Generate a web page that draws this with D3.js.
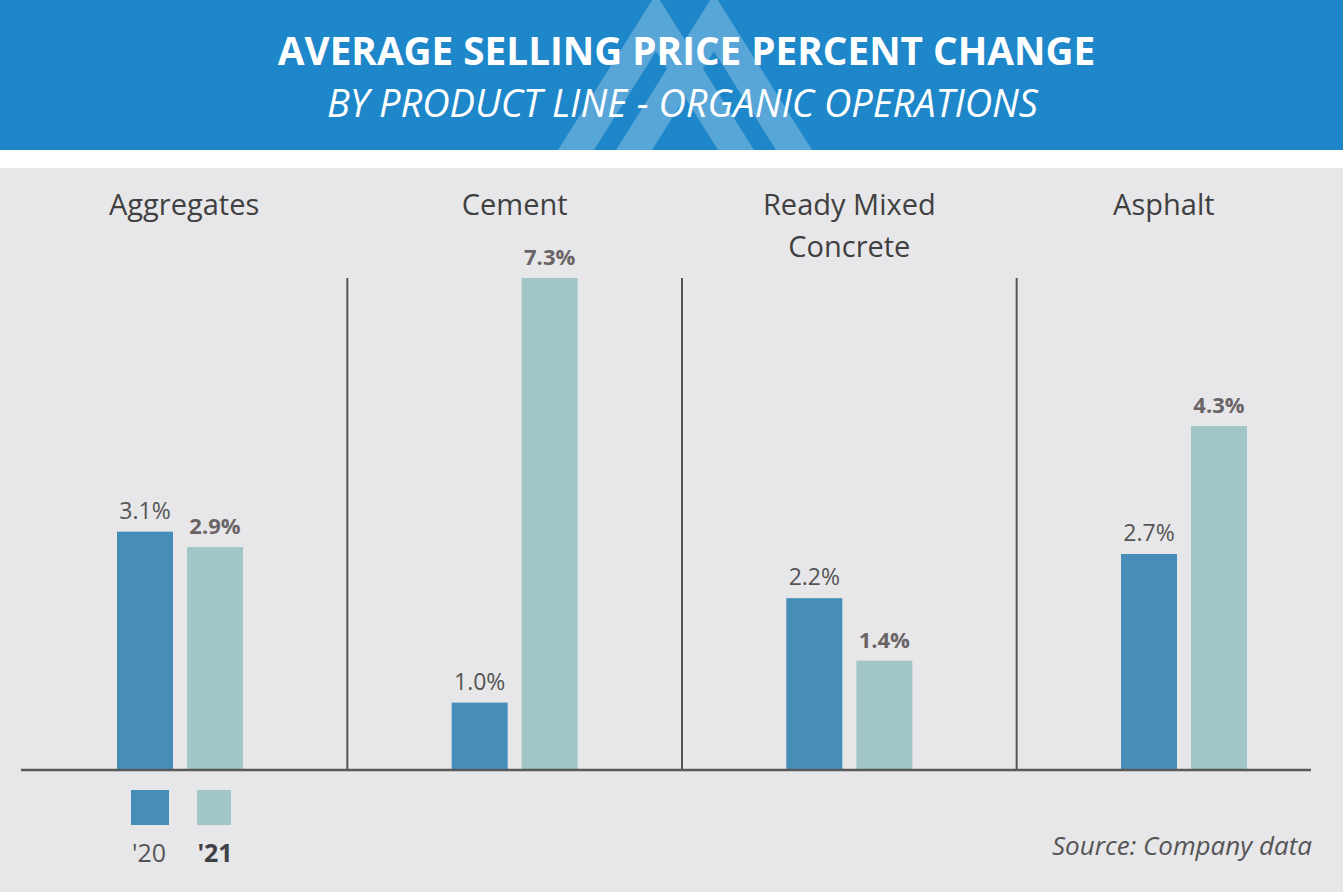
<!DOCTYPE html>
<html>
<head>
<meta charset="utf-8">
<script src="https://cdn.jsdelivr.net/npm/d3@7"></script>
<style>
  html, body { margin: 0; padding: 0; background: #e7e7e9; }
  svg { display: block; font-family: "Open Sans", "Noto Sans", sans-serif; }
</style>
</head>
<body>
<svg id="chart" width="1343" height="892"></svg>
<script>
// ----- Datos -----
const categories = ["Aggregates", "Cement", "Ready Mixed Concrete", "Asphalt"];
const categoryLines = [["Aggregates"], ["Cement"], ["Ready Mixed", "Concrete"], ["Asphalt"]];
const years = ["'20", "'21"];
const values20 = [3.1, 1.0, 2.2, 2.7];
const values21 = [2.9, 7.3, 1.4, 4.3];
// cada panel es un gráfico aparte, con su propio máximo de eje
const panelMax = [6.4, 7.3, 6.3, 6.15];

const title = "AVERAGE SELLING PRICE PERCENT CHANGE";
const subtitle = "BY PRODUCT LINE - ORGANIC OPERATIONS";
const source = "Source: Company data";

const colors = { "'20": "#468eb8", "'21": "#a2c6c7" };

const svg = d3.select("#chart");
const W = 1343, H = 892;

// ----- Cabecera -----
svg.append("rect").attr("x", 0).attr("y", 0).attr("width", W).attr("height", 150).attr("fill", "#1e87c9");
svg.append("rect").attr("x", 0).attr("y", 150).attr("width", W).attr("height", 18).attr("fill", "#ffffff");

// logo de fondo (dos chevrones)
function chevron(ax, top, w, t, bottom) {
  const h = bottom - top;
  const innerY = top + t * h / w;
  return `M${ax - w},${bottom}L${ax},${top}L${ax + w},${bottom}L${ax + w - t},${bottom}L${ax},${innerY}L${ax - w + t},${bottom}Z`;
}
svg.append("path")
  .attr("d", chevron(656, -6, 98, 36, 150) + chevron(714, -6, 98, 36, 150))
  .attr("fill", "#ffffff").attr("fill-opacity", 0.26);

svg.append("text")
  .attr("x", W / 2 + 15).attr("y", 65)
  .attr("text-anchor", "middle")
  .attr("fill", "#ffffff").attr("font-weight", "bold").attr("font-size", 38.7)
  .text(title);
svg.append("text")
  .attr("x", W / 2 + 11).attr("y", 117)
  .attr("text-anchor", "middle")
  .attr("fill", "#ffffff").attr("font-style", "italic").attr("font-size", 38)
  .text(subtitle);

// ----- Escalas -----
const baseY = 770, topY = 278;
const x = d3.scalePoint().domain(categories).range([180, 1184]);
const xs = d3.scaleBand().domain(years).range([-63, 63]).paddingInner(0.2);
const yScales = panelMax.map(m => d3.scaleLinear().domain([0, m]).range([baseY, topY]));

const rows = categories.map((c, i) => ({
  cat: c, i,
  bars: [
    { year: "'20", v: values20[i] },
    { year: "'21", v: values21[i] }
  ]
}));

// separadores entre paneles
const dividers = categories.slice(1).map((c, i) => (x(categories[i]) + x(c)) / 2);
const edges = [21, ...dividers, 1311];
svg.selectAll(".divider").data(dividers).join("line")
  .attr("class", "divider")
  .attr("x1", d => d).attr("x2", d => d)
  .attr("y1", topY).attr("y2", baseY)
  .attr("stroke", "#555555").attr("stroke-width", 2);

// títulos de categoría, centrados en su panel
const catText = svg.selectAll(".cat").data(rows).join("text")
  .attr("class", "cat")
  .attr("text-anchor", "middle")
  .attr("fill", "#404040").attr("font-size", 29);
catText.selectAll("tspan").data(d => categoryLines[d.i].map(l => ({ l, cx: (edges[d.i] + edges[d.i + 1]) / 2 })))
  .join("tspan")
  .attr("x", d => d.cx)
  .attr("y", (d, j) => 215 + j * 42)
  .text(d => d.l);

// barras
const groups = svg.selectAll(".grp").data(rows).join("g")
  .attr("class", "grp")
  .attr("transform", d => `translate(${x(d.cat)},0)`);

groups.selectAll("rect").data(d => d.bars.map(b => ({ ...b, y: yScales[d.i] })))
  .join("rect")
  .attr("x", d => xs(d.year))
  .attr("width", xs.bandwidth())
  .attr("y", d => d.y(d.v))
  .attr("height", d => baseY - d.y(d.v))
  .attr("fill", d => colors[d.year]);

groups.selectAll("text").data(d => d.bars.map(b => ({ ...b, y: yScales[d.i] })))
  .join("text")
  .attr("x", d => xs(d.year) + xs.bandwidth() / 2)
  .attr("y", d => d.y(d.v) - 13)
  .attr("text-anchor", "middle")
  .attr("font-size", d => d.year === "'21" ? 22 : 23)
  .attr("font-weight", d => d.year === "'21" ? "bold" : "normal")
  .attr("fill", d => d.year === "'21" ? "#6b6467" : "#555555")
  .text(d => d.v.toFixed(1) + "%");

// línea base
svg.append("line")
  .attr("x1", 21).attr("x2", 1311)
  .attr("y1", baseY).attr("y2", baseY)
  .attr("stroke", "#595959").attr("stroke-width", 2.5);

// ----- Leyenda -----
const legend = svg.append("g").attr("transform", "translate(131,790)");
const lx = d3.scaleOrdinal().domain(years).range([0, 66]);
legend.selectAll("rect").data(years).join("rect")
  .attr("x", d => lx(d)).attr("y", 0)
  .attr("width", d => d === "'20" ? 38 : 34).attr("height", 35)
  .attr("fill", d => colors[d]);
legend.selectAll("text").data(years).join("text")
  .attr("x", d => lx(d) + 18).attr("y", 72)
  .attr("text-anchor", "middle")
  .attr("font-size", 25)
  .attr("font-weight", d => d === "'21" ? "bold" : "normal")
  .attr("fill", d => d === "'21" ? "#3f3f46" : "#555555")
  .text(d => d);

// ----- Fuente -----
svg.append("text")
  .attr("x", 1312).attr("y", 855)
  .attr("text-anchor", "end")
  .attr("font-style", "italic").attr("font-size", 26)
  .attr("fill", "#555555")
  .text(source);
</script>
</body>
</html>
